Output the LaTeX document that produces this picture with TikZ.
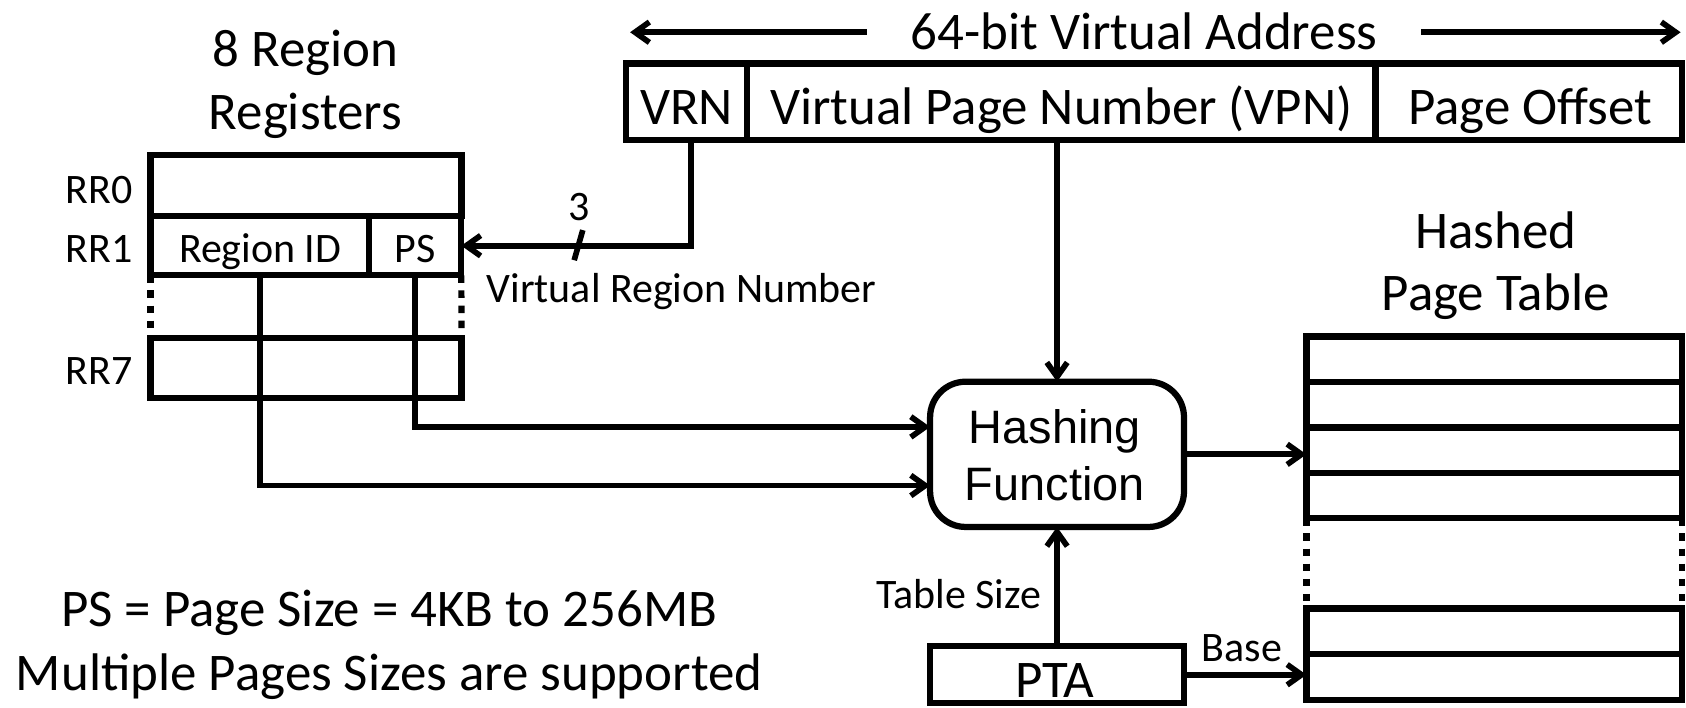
\documentclass[tikz,border=0pt]{standalone}
\usepackage{fontspec}
\setmainfont{Carlito}
\newfontfamily\arialfont{Liberation Sans}
\usetikzlibrary{arrows.meta,calc}

\begin{document}
\begin{tikzpicture}[x=0.01cm,y=-0.01cm,
  box/.style={draw, line width=1.65pt, inner sep=0, outer sep=0, anchor=north west},
  big/.style={font=\fontsize{14}{16}\selectfont, inner sep=0, text height=9pt, text depth=0pt},
  small/.style={font=\fontsize{11.1}{13}\selectfont, inner sep=0, text height=7.1pt, text depth=0pt},
  hashtext/.style={font=\arialfont\fontsize{12.4}{14}\selectfont, inner sep=0, text height=8.9pt, text depth=0pt},
  conn/.style={line width=1.5pt, -{Straight Barb[length=3.8pt,width=5.4pt]}},
  dotline/.style={line width=1.65pt, dash pattern=on 2pt off 2pt},
]
\useasboundingbox (0,0) rectangle (1568,658);

% 64-bit virtual address with its span arrows
\node[big, inner xsep=0.4cm] (title) at (1064,30) {64-bit Virtual Address};
\coordinate (lt) at (586,30);
\coordinate (rt) at (1563,30);
\draw[conn] (title.west) -- (lt);
\draw[conn] (title.east) -- (rt);

\node[box, minimum width=1.13cm, minimum height=0.71cm] (vrn) at (582,59) {};
\node[box, minimum width=5.84cm, minimum height=0.71cm] (vpn) at (695,59) {};
\node[box, minimum width=2.85cm, minimum height=0.71cm] (off) at (1279,59) {};
\node[big] (vrnt) at (638.5,100) {VRN};
\node[big] (vpnt) at (987,100) {Virtual Page Number (VPN)};
\node[big] (offt) at (1423,100) {Page Offset};

% region registers
\node[big] (rrt1) at (284,46) {8 Region};
\node[big] (rrt2) at (284,105) {Registers};
\node[box, minimum width=2.89cm, minimum height=0.57cm] (rr0) at (140,144) {};
\node[box, minimum width=2.03cm, minimum height=0.55cm] (rid) at (140,201) {};
\node[box, minimum width=0.86cm, minimum height=0.55cm] (ps) at (343,201) {};
\node[box, minimum width=2.89cm, minimum height=0.56cm] (rr7) at (140,314) {};
\draw[dotline] (rid.south west) -- (rr7.north west);
\draw[dotline] (ps.south east) -- (rr7.north east);
\node[small] (rr0l) at (92,177) {RR0};
\node[small] (rr1l) at (92,232) {RR1};
\node[small] (rr7l) at (92,345) {RR7};
\node[small] (ridt) at (242,232) {Region ID};
\node[small] (pst) at (386,232) {PS};

% virtual region number path
\draw[conn] ([xshift=0.04cm]vrn.south) |- (ps.east);
\coordinate (s1) at (534,242);
\coordinate (s2) at (542,214);
\draw[line width=1.5pt] (s1) -- (s2);
\node[small] (three) at (539,193) {3};
\node[small, anchor=west] (vrnl) at (452,269) {Virtual Region Number};

% hashing function
\node[box, rounded corners=0.33cm, minimum width=2.36cm, minimum height=1.35cm] (hash) at (865,355) {};
\node[hashtext] (h1) at (981,397) {Hashing};
\node[hashtext] (h2) at (981,450) {Function};
\draw[conn] (vpn.south -| hash.north) -- (hash.north);
\draw[conn] (ps.south) |- ([yshift=0.255cm]hash.west);
\draw[conn] (rid.south) |- ([yshift=-0.29cm]hash.west);

% hashed page table
\node[big] (pt1) at (1391,215) {Hashed};
\node[big] (pt2) at (1391,273) {Page Table};
\node[box, minimum width=3.49cm, minimum height=0.4225cm] (t1) at (1215,313) {};
\node[box, minimum width=3.49cm, minimum height=0.4225cm] (t2) at (1215,355.25) {};
\node[box, minimum width=3.49cm, minimum height=0.4225cm] (t3) at (1215,397.5) {};
\node[box, minimum width=3.49cm, minimum height=0.4225cm] (t4) at (1215,439.75) {};
\node[box, minimum width=3.49cm, minimum height=0.42cm] (t5) at (1215,566) {};
\node[box, minimum width=3.49cm, minimum height=0.43cm] (t6) at (1215,608) {};
\draw[dotline] (t4.south west) -- (t5.north west);
\draw[dotline] (t4.south east) -- (t5.north east);
\draw[conn] (hash.east) -- (hash.east -| t1.west);

% page table address register
\node[box, minimum width=2.36cm, minimum height=0.53cm] (pta) at (865,601) {};
\node[big] (ptat) at (981,633) {PTA};
\draw[conn] (pta.north) -- (hash.south);
\node[small, anchor=east] (tsz) at (969,553) {Table Size};
\draw[conn] (pta.east) -- (pta.east -| t6.west);
\node[small] (base) at (1155,603) {Base};

% notes
\node[big] (n1) at (362,567) {PS = Page Size = 4KB to 256MB};
\node[big] (n2) at (362,626) {Multiple Pages Sizes are supported};
\end{tikzpicture}
\end{document}
